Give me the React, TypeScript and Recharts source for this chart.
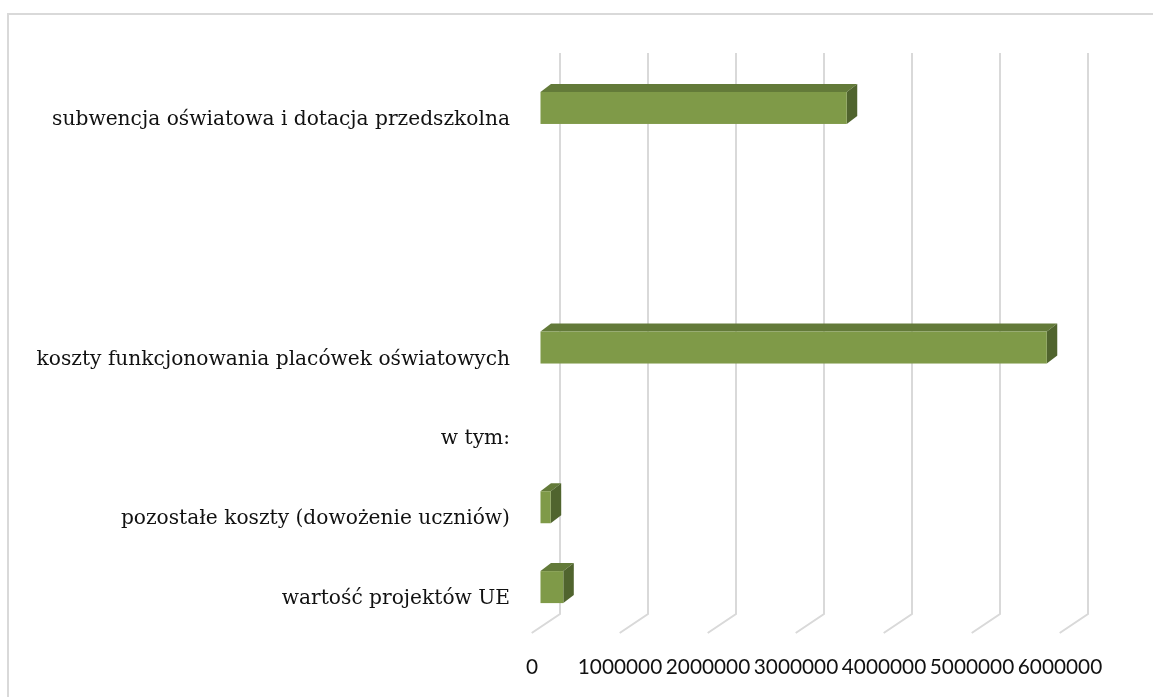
import { BarChart, Bar, XAxis, YAxis, CartesianGrid } from 'recharts';

const categories = [
  'subwencja oświatowa i dotacja przedszkolna',
  '',
  ' ',
  'koszty funkcjonowania placówek oświatowych',
  'w tym:',
  'pozostałe koszty (dowożenie uczniów)',
  'wartość projektów UE',
];
const amounts: (number | null)[] = [3480000, null, null, 5753000, null, 116000, 259000];
const valueTicks = [0, 1000000, 2000000, 3000000, 4000000, 5000000, 6000000];

const data = categories.map((name, i) => ({ name, value: amounts[i] }));

const DX = 10.5;
const DY = 8;
const GRID = '#d9d9d9';

function Bar3D(props: any) {
  const { x, y, width, height } = props;
  if (!width || width <= 0) return null;
  return (
    <g>
      <polygon
        points={`${x},${y} ${x + DX},${y - DY} ${x + width + DX},${y - DY} ${x + width},${y}`}
        fill="#637a39"
      />
      <polygon
        points={`${x + width},${y} ${x + width + DX},${y - DY} ${x + width + DX},${y + height - DY} ${x + width},${y + height}`}
        fill="#50642e"
      />
      <rect x={x} y={y} width={width} height={height} fill="#7f9a48" />
    </g>
  );
}

// back wall line + diagonal on the floor for each value tick
function GridLine3D(props: any) {
  const { x1, y1, y2 } = props;
  const bx = x1 + 19.5;
  return (
    <path
      key={props.key}
      d={`M${bx},${y1 - 15} L${bx},${y2 - 13} L${x1 - 8.8},${y2 + 6}`}
      stroke={GRID}
      strokeWidth={2}
      fill="none"
    />
  );
}

function CategoryTick(props: any) {
  const { x, y, payload } = props;
  return (
    <text
      x={x - 30.5}
      y={y + 10}
      textAnchor="end"
      dominantBaseline="central"
      fontFamily="'DejaVu Serif', serif"
      fontSize={20.2}
      fill="#111"
    >
      {payload.value}
    </text>
  );
}

function ValueTick(props: any) {
  const { x, y, payload } = props;
  return (
    <text
      x={x - 8.5}
      y={y + 38}
      textAnchor="middle"
      dominantBaseline="central"
      fontFamily="Lato, sans-serif"
      fontSize={20.8}
      fill="#111"
    >
      {payload.value}
    </text>
  );
}

export default function App() {
  return (
    <div style={{ position: 'relative', width: 1145, height: 680 }}>
      <div
        style={{
          position: 'fixed',
          left: 7,
          top: 13,
          right: 0,
          bottom: 0,
          borderTop: `2px solid ${GRID}`,
          borderLeft: `2px solid ${GRID}`,
          pointerEvents: 'none',
        }}
      />
      <BarChart
        width={1145}
        height={680}
        data={data}
        layout="vertical"
        margin={{ top: 60, right: 84.5, bottom: 0, left: 0 }}
        barCategoryGap="30%"
      >
        <CartesianGrid horizontal={false} vertical={GridLine3D} />
        <XAxis
          type="number"
          domain={[0, 6000000]}
          ticks={valueTicks}
          height={61}
          axisLine={false}
          tickLine={false}
          tickSize={0}
          tickMargin={0}
          tick={ValueTick}
          interval={0}
        />
        <YAxis
          type="category"
          dataKey="name"
          width={532.5}
          axisLine={false}
          tickLine={false}
          tickSize={0}
          tickMargin={0}
          tick={CategoryTick}
          interval={0}
        />
        <Bar dataKey="value" shape={Bar3D} isAnimationActive={false} />
      </BarChart>
    </div>
  );
}
